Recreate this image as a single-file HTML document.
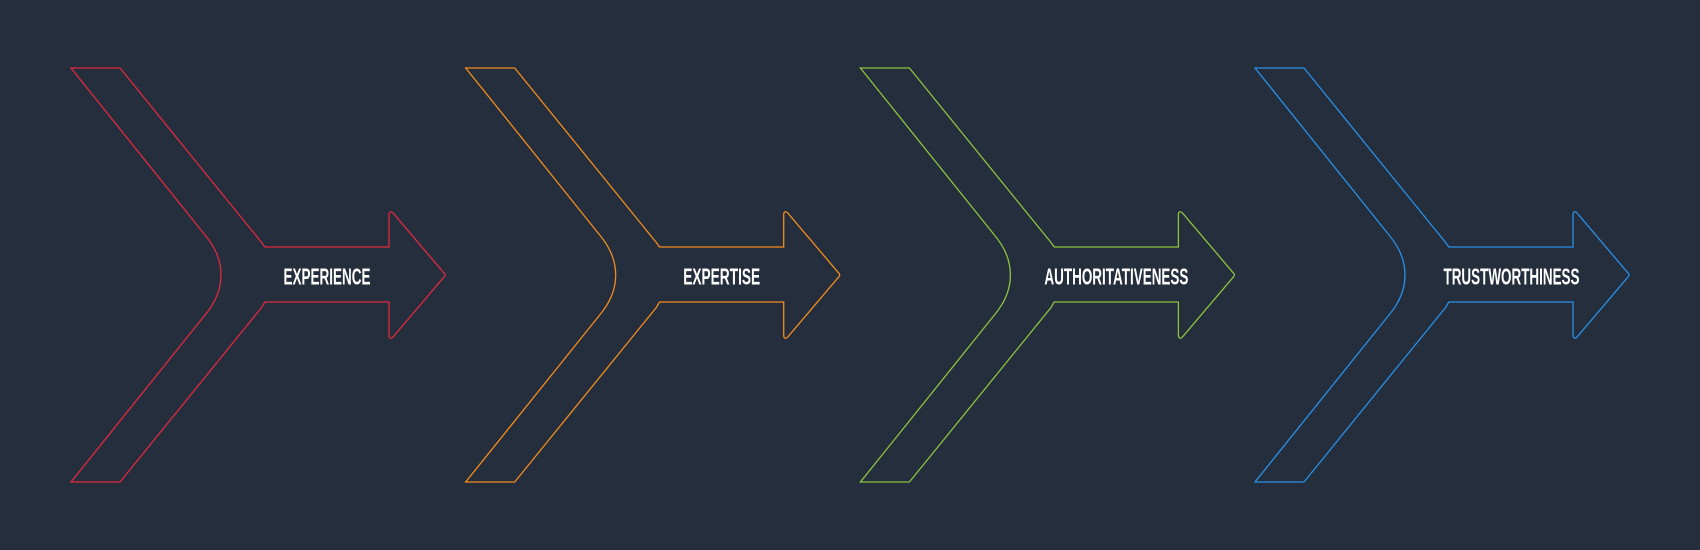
<!DOCTYPE html>
<html><head><meta charset="utf-8"><style>
html,body{margin:0;padding:0;background:#242e3d;}
svg{display:block}
text{font-family:"Liberation Sans",sans-serif;font-weight:bold;font-size:23px;fill:#ffffff}
</style></head><body>
<svg width="1700" height="550" viewBox="0 0 1700 550" xmlns="http://www.w3.org/2000/svg">
<rect width="1700" height="550" fill="#242e3d"/>
<defs>
<path id="s" d="M71,68 L120,68 L262,243 Q264,246 265,247 L389,247 L389,214 Q390,210 393,213 L444,273 Q446,275 444,277 L393,337 Q390,340 389,336 L389,302 L265,302 Q264,303 262,307 L120,482 L71,482 L205,315 Q221,296 221,275 Q221,254 205,235 Z" fill="none" stroke-width="1.3"/>
</defs>
<use href="#s" stroke="#e0293f"/>
<use href="#s" stroke="#f28c1c" transform="translate(394.7,0)"/>
<use href="#s" stroke="#8cc43f" transform="translate(789.4,0)"/>
<use href="#s" stroke="#2a8fe6" transform="translate(1184,0)"/>
<text x="327" y="284.5" text-anchor="middle" textLength="87" lengthAdjust="spacingAndGlyphs">EXPERIENCE</text>
<text x="721.7" y="284.5" text-anchor="middle" textLength="77" lengthAdjust="spacingAndGlyphs">EXPERTISE</text>
<text x="1116.4" y="284.5" text-anchor="middle" textLength="144" lengthAdjust="spacingAndGlyphs">AUTHORITATIVENESS</text>
<text x="1511.5" y="284.5" text-anchor="middle" textLength="136" lengthAdjust="spacingAndGlyphs">TRUSTWORTHINESS</text>
</svg>
</body></html>
